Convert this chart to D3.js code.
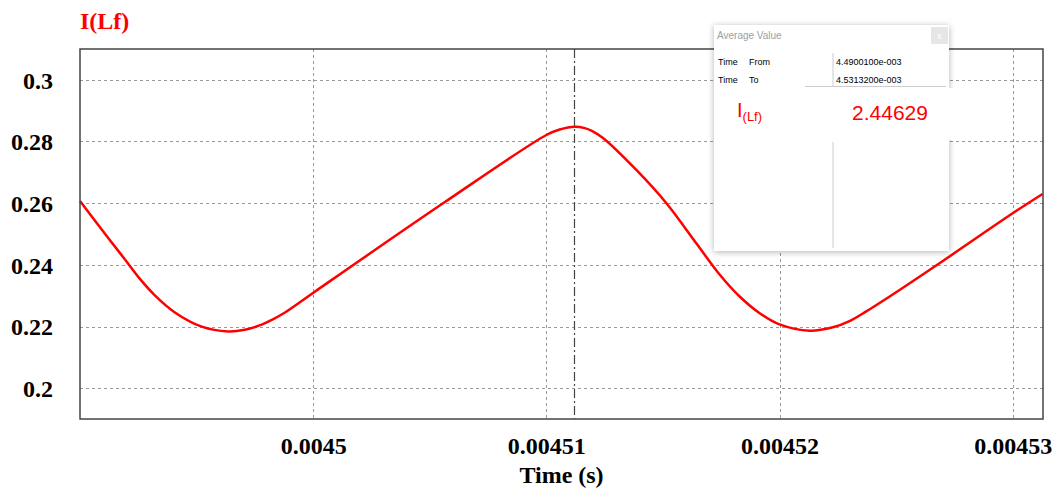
<!DOCTYPE html>
<html>
<head>
<meta charset="utf-8">
<script src="https://cdn.jsdelivr.net/npm/d3@7"></script>
<style>
  body { margin: 0; background: #fff; }
  svg { display: block; }
</style>
</head>
<body>
<div id="chart"></div>
<script>
// data
var timeVals = [0.00449000, 0.00449121, 0.00449193, 0.00449257, 0.00449321, 0.00449407, 0.00449522,
    0.00449634, 0.00449707, 0.00449779, 0.00449823, 0.00449879, 0.00450007, 0.00450557, 0.00451000,
    0.00451057, 0.00451122, 0.00451165, 0.00451195, 0.00451243, 0.00451386, 0.00451515, 0.00451643,
    0.00451743, 0.00451829, 0.00451915, 0.00452000, 0.00452129, 0.00452229, 0.00452300, 0.00452372,
    0.00452515, 0.00452686, 0.00453000, 0.00453128];
var currentVals = [0.26070, 0.24870, 0.24173, 0.23544, 0.23012, 0.22457, 0.21994,
    0.21838, 0.21893, 0.22059, 0.22214, 0.22454, 0.23129, 0.25996, 0.28211,
    0.28389, 0.28480, 0.28435, 0.28347, 0.28114, 0.27076, 0.25996, 0.24698,
    0.23687, 0.22973, 0.22431, 0.22068, 0.21864, 0.21974, 0.22175, 0.22490,
    0.23184, 0.24050, 0.25671, 0.26297];

var xTicks = [0.0045, 0.00451, 0.00452, 0.00453];
var xTickLabels = ["0.0045", "0.00451", "0.00452", "0.00453"];
var yTicks = [0.2, 0.22, 0.24, 0.26, 0.28, 0.3];
var yTickLabels = ["0.2", "0.22", "0.24", "0.26", "0.28", "0.3"];
var cursorTime = 0.0045112;

// average value window contents
var avgRows = [["Time", "From", "4.4900100e-003"], ["Time", "To", "4.5313200e-003"]];
var avgValue = "2.44629";

var w = 1058, h = 492;
var plotL = 80, plotR = 1043, plotT = 49, plotB = 419;

var svg = d3.select("#chart").append("svg")
    .attr("width", w)
    .attr("height", h);

var x = d3.scaleLinear().domain([0.00449, 0.0045313]).range([plotL, plotR]);
var y = d3.scaleLinear().domain([0.19, 0.31]).range([plotB, plotT]);

// grid
svg.append("g")
    .selectAll("line")
    .data(yTicks)
    .enter().append("line")
    .attr("x1", plotL).attr("x2", plotR)
    .attr("y1", function (d) { return Math.round(y(d)) + 0.5; })
    .attr("y2", function (d) { return Math.round(y(d)) + 0.5; })
    .attr("stroke", "#999").attr("stroke-dasharray", "3,3");

svg.append("g")
    .selectAll("line")
    .data(xTicks)
    .enter().append("line")
    .attr("y1", plotT).attr("y2", plotB)
    .attr("x1", function (d) { return Math.round(x(d)) + 0.5; })
    .attr("x2", function (d) { return Math.round(x(d)) + 0.5; })
    .attr("stroke", "#999").attr("stroke-dasharray", "3,3");

// cursor
svg.append("line")
    .attr("x1", Math.round(x(cursorTime)) + 0.5).attr("x2", Math.round(x(cursorTime)) + 0.5)
    .attr("y1", plotT).attr("y2", plotB)
    .attr("stroke", "#444").attr("stroke-width", 1.2)
    .attr("stroke-dasharray", "9,3,2,3");

// waveform
var line = d3.line()
    .x(function (d, i) { return x(timeVals[i]); })
    .y(function (d) { return y(d); })
    .curve(d3.curveCatmullRom.alpha(0.5));

svg.append("path")
    .datum(currentVals)
    .attr("d", line)
    .attr("fill", "none")
    .attr("stroke", "#ff0000")
    .attr("stroke-width", 2.5);

// frame
svg.append("rect")
    .attr("x", plotL).attr("y", plotT)
    .attr("width", plotR - plotL).attr("height", plotB - plotT)
    .attr("fill", "none").attr("stroke", "#444").attr("stroke-width", 1.5);

// axes (labels only)
var xAxis = d3.axisBottom(x)
    .tickValues(xTicks)
    .tickSize(0)
    .tickFormat(function (d, i) { return xTickLabels[i]; });

var gx = svg.append("g")
    .attr("transform", "translate(0," + plotB + ")")
    .call(xAxis);
gx.select(".domain").remove();
gx.selectAll("text")
    .attr("y", 35).attr("dy", 0)
    .style("font-family", "'Liberation Serif', 'Times New Roman', serif")
    .style("font-size", "24px").style("font-weight", "bold").attr("fill", "#000");

var yAxis = d3.axisLeft(y)
    .tickValues(yTicks)
    .tickSize(0)
    .tickFormat(function (d, i) { return yTickLabels[i]; });

var gy = svg.append("g")
    .attr("transform", "translate(" + plotL + ",0)")
    .call(yAxis);
gy.select(".domain").remove();
gy.selectAll("text")
    .attr("x", -27).attr("dy", "0.35em")
    .style("font-family", "'Liberation Serif', 'Times New Roman', serif")
    .style("font-size", "24px").style("font-weight", "bold").attr("fill", "#000");

svg.append("text")
    .attr("x", (plotL + plotR) / 2).attr("y", 483)
    .attr("text-anchor", "middle")
    .style("font-family", "'Liberation Serif', 'Times New Roman', serif")
    .style("font-size", "24px").style("font-weight", "bold")
    .text("Time (s)");

svg.append("text")
    .attr("x", 80).attr("y", 29)
    .style("font-family", "'Liberation Serif', 'Times New Roman', serif")
    .style("font-size", "24px").style("font-weight", "bold")
    .attr("fill", "#ff0000")
    .text("I(Lf)");

// average value window
var defs = svg.append("defs");
var f = defs.append("filter").attr("id", "shadow")
    .attr("x", "-10%").attr("y", "-10%").attr("width", "120%").attr("height", "120%");
f.append("feDropShadow")
    .attr("dx", 0).attr("dy", 1).attr("stdDeviation", 3)
    .attr("flood-color", "#000").attr("flood-opacity", 0.3);

var bx = 714, by = 25, bw = 235, bh = 226;
var win = svg.append("g");
win.append("rect")
    .attr("x", bx).attr("y", by).attr("width", bw).attr("height", bh)
    .attr("fill", "#fff").attr("filter", "url(#shadow)");

win.append("text")
    .attr("x", bx + 3).attr("y", by + 14)
    .style("font-family", "'Liberation Sans', Arial, sans-serif")
    .style("font-size", "10px").attr("fill", "#a0a0a0")
    .text("Average Value");

win.append("rect")
    .attr("x", 931).attr("y", 27).attr("width", 17).attr("height", 17)
    .attr("fill", "#e6e6e6");
win.append("text")
    .attr("x", 939.5).attr("y", 39).attr("text-anchor", "middle")
    .style("font-family", "'Liberation Sans', Arial, sans-serif")
    .style("font-size", "9px").attr("fill", "#fff")
    .text("x");

var rows = win.selectAll("g.row")
    .data(avgRows)
    .enter().append("g")
    .attr("transform", function (d, i) { return "translate(0," + (65 + i * 18) + ")"; })
    .style("font-family", "'Liberation Sans', Arial, sans-serif")
    .style("font-size", "9px").attr("fill", "#000");
rows.append("text").attr("x", 718).text(function (d) { return d[0]; });
rows.append("text").attr("x", 749).text(function (d) { return d[1]; });
rows.append("text").attr("x", 836).text(function (d) { return d[2]; });

win.append("line")
    .attr("x1", 833).attr("x2", 833).attr("y1", 53).attr("y2", 87)
    .attr("stroke", "#ccc").attr("stroke-width", 1);
win.append("line")
    .attr("x1", 805).attr("x2", 946).attr("y1", 86.5).attr("y2", 86.5)
    .attr("stroke", "#ccc").attr("stroke-width", 1);
// white value area, sits over the window shadow
win.append("rect")
    .attr("x", 805).attr("y", 88).attr("width", 155).attr("height", 52)
    .attr("fill", "#fff");
win.append("line")
    .attr("x1", 833).attr("x2", 833).attr("y1", 142).attr("y2", 248)
    .attr("stroke", "#ccc").attr("stroke-width", 1);

var lab = win.append("text")
    .attr("x", 737).attr("y", 117)
    .style("font-family", "'Liberation Sans', Arial, sans-serif")
    .attr("fill", "#ff0000");
lab.append("tspan").style("font-size", "20px").text("I");
lab.append("tspan").attr("dy", 4).style("font-size", "13px").text("(Lf)");

win.append("text")
    .attr("x", 890).attr("y", 120).attr("text-anchor", "middle")
    .style("font-family", "'Liberation Sans', Arial, sans-serif")
    .style("font-size", "21px").attr("fill", "#ff0000")
    .text(avgValue);
</script>
</body>
</html>
